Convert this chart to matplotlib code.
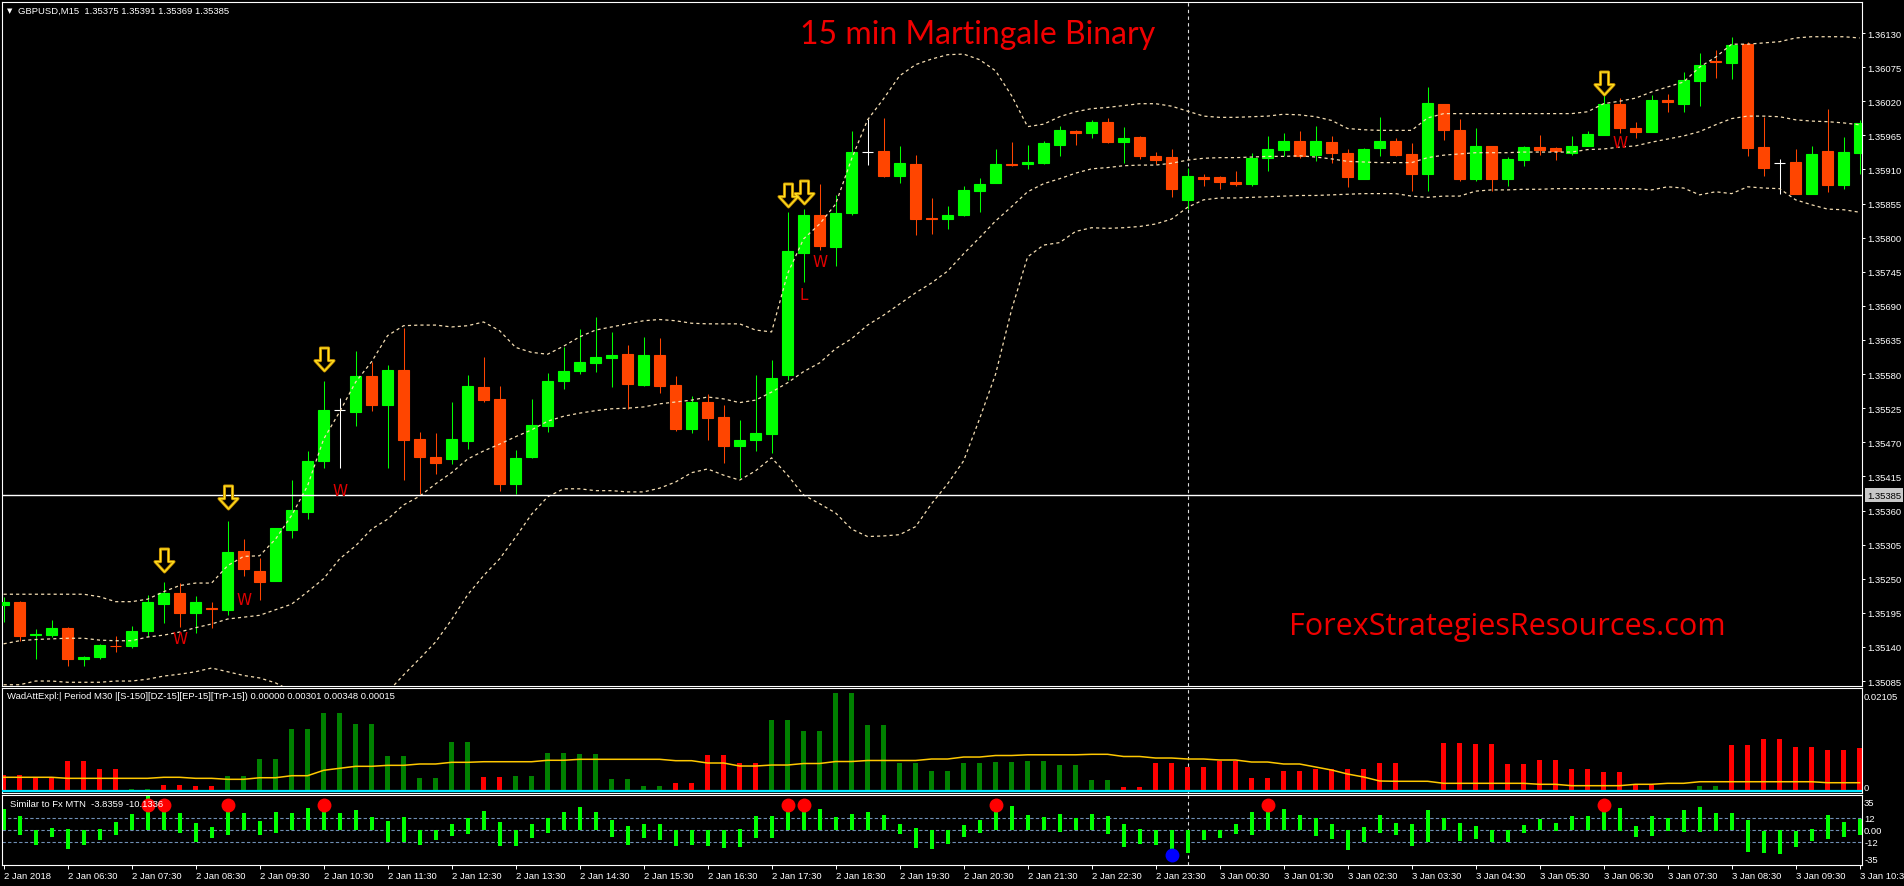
import numpy as np
import matplotlib
matplotlib.use('Agg')
import matplotlib.pyplot as plt
import matplotlib.transforms as mtransforms
from matplotlib.path import Path

plt.rcParams['font.family'] = ['Liberation Sans', 'DejaVu Sans']

W_PX, H_PX = 1904, 887

# ─── DATA: GBPUSD M15, 2 Jan 05:30 .. 3 Jan 10:30 (117 bars) ────────────────
opens = [
    1.35208, 1.35213, 1.35160, 1.35160, 1.35171, 1.35120, 1.35123, 1.35142, 1.35142, 1.35165,
    1.35210, 1.35227, 1.35195, 1.35202, 1.35200, 1.35295, 1.35263, 1.35247, 1.35328, 1.35357,
    1.35440, 1.35522, 1.35519, 1.35577, 1.35530, 1.35587, 1.35475, 1.35446, 1.35443, 1.35472,
    1.35559, 1.35540, 1.35403, 1.35446, 1.35496, 1.35569, 1.35585, 1.35598, 1.35606, 1.35612,
    1.35562, 1.35611, 1.35562, 1.35491, 1.35535, 1.35511, 1.35464, 1.35473, 1.35484, 1.35579,
    1.35775, 1.35837, 1.35785, 1.35840, 1.35938, 1.35940, 1.35900, 1.35919, 1.35832, 1.35830,
    1.35837, 1.35875, 1.35888, 1.35918, 1.35918, 1.35921, 1.35950, 1.35972, 1.35968, 1.35987,
    1.35955, 1.35962, 1.35932, 1.35930, 1.35860, 1.35898, 1.35898, 1.35890, 1.35887, 1.35929,
    1.35942, 1.35956, 1.35934, 1.35954, 1.35937, 1.35895, 1.35944, 1.35956, 1.35935, 1.35902,
    1.36016, 1.35974, 1.35894, 1.35948, 1.35894, 1.35926, 1.35946, 1.35945, 1.35936, 1.35947,
    1.35965, 1.36016, 1.35977, 1.35971, 1.36022, 1.36016, 1.36053, 1.36085, 1.36082, 1.36112,
    1.35946, 1.35921, 1.35922, 1.35871, 1.35940, 1.35885, 1.35936]
highs = [
    1.35220, 1.35214, 1.35169, 1.35184, 1.35172, 1.35126, 1.35145, 1.35158, 1.35173, 1.35223,
    1.35245, 1.35243, 1.35222, 1.35213, 1.35343, 1.35314, 1.35284, 1.35332, 1.35409, 1.35456,
    1.35569, 1.35542, 1.35617, 1.35600, 1.35595, 1.35655, 1.35487, 1.35485, 1.35535, 1.35579,
    1.35608, 1.35561, 1.35458, 1.35540, 1.35582, 1.35624, 1.35653, 1.35672, 1.35648, 1.35627,
    1.35640, 1.35638, 1.35577, 1.35545, 1.35548, 1.35530, 1.35506, 1.35579, 1.35603, 1.35841,
    1.35846, 1.35887, 1.35869, 1.35972, 1.35992, 1.35993, 1.35948, 1.35933, 1.35864, 1.35851,
    1.35883, 1.35896, 1.35943, 1.35954, 1.35950, 1.35956, 1.35980, 1.35974, 1.35990, 1.35993,
    1.35979, 1.35964, 1.35938, 1.35943, 1.35912, 1.35903, 1.35900, 1.35908, 1.35937, 1.35964,
    1.35969, 1.35972, 1.35980, 1.35964, 1.35943, 1.35945, 1.35995, 1.35961, 1.35953, 1.36043,
    1.36016, 1.35992, 1.35977, 1.35948, 1.35930, 1.35948, 1.35966, 1.35946, 1.35964, 1.35972,
    1.36030, 1.36025, 1.35987, 1.36030, 1.36032, 1.36067, 1.36098, 1.36103, 1.36124, 1.36116,
    1.35995, 1.35927, 1.35943, 1.35948, 1.36008, 1.35962, 1.35990]
lows = [
    1.35181, 1.35150, 1.35120, 1.35156, 1.35110, 1.35110, 1.35120, 1.35132, 1.35139, 1.35157,
    1.35178, 1.35172, 1.35163, 1.35171, 1.35192, 1.35255, 1.35215, 1.35246, 1.35316, 1.35346,
    1.35429, 1.35429, 1.35496, 1.35521, 1.35429, 1.35409, 1.35386, 1.35419, 1.35435, 1.35459,
    1.35535, 1.35392, 1.35386, 1.35445, 1.35487, 1.35556, 1.35580, 1.35583, 1.35559, 1.35524,
    1.35561, 1.35550, 1.35488, 1.35485, 1.35474, 1.35437, 1.35412, 1.35456, 1.35452, 1.35571,
    1.35729, 1.35780, 1.35754, 1.35837, 1.35917, 1.35898, 1.35888, 1.35804, 1.35806, 1.35814,
    1.35835, 1.35841, 1.35888, 1.35916, 1.35910, 1.35918, 1.35931, 1.35950, 1.35960, 1.35953,
    1.35921, 1.35927, 1.35918, 1.35866, 1.35846, 1.35884, 1.35879, 1.35884, 1.35884, 1.35907,
    1.35931, 1.35929, 1.35924, 1.35921, 1.35881, 1.35894, 1.35931, 1.35932, 1.35876, 1.35876,
    1.35957, 1.35892, 1.35892, 1.35876, 1.35884, 1.35915, 1.35934, 1.35926, 1.35934, 1.35947,
    1.35965, 1.35969, 1.35960, 1.35971, 1.36002, 1.36002, 1.36013, 1.36058, 1.36056, 1.35931,
    1.35900, 1.35871, 1.35871, 1.35871, 1.35874, 1.35879, 1.35902]
closes = [
    1.35213, 1.35158, 1.35161, 1.35171, 1.35120, 1.35124, 1.35143, 1.35141, 1.35166, 1.35213,
    1.35227, 1.35194, 1.35213, 1.35201, 1.35293, 1.35266, 1.35245, 1.35332, 1.35361, 1.35440,
    1.35522, 1.35522, 1.35577, 1.35530, 1.35587, 1.35474, 1.35446, 1.35437, 1.35475, 1.35561,
    1.35538, 1.35403, 1.35445, 1.35498, 1.35569, 1.35585, 1.35600, 1.35608, 1.35611, 1.35564,
    1.35611, 1.35561, 1.35491, 1.35535, 1.35509, 1.35464, 1.35474, 1.35485, 1.35574, 1.35779,
    1.35837, 1.35787, 1.35840, 1.35938, 1.35938, 1.35900, 1.35921, 1.35830, 1.35830, 1.35837,
    1.35877, 1.35887, 1.35919, 1.35917, 1.35922, 1.35953, 1.35974, 1.35969, 1.35987, 1.35955,
    1.35961, 1.35931, 1.35926, 1.35879, 1.35900, 1.35895, 1.35889, 1.35887, 1.35929, 1.35943,
    1.35956, 1.35931, 1.35956, 1.35936, 1.35897, 1.35943, 1.35956, 1.35934, 1.35902, 1.36017,
    1.35973, 1.35894, 1.35948, 1.35894, 1.35927, 1.35946, 1.35942, 1.35939, 1.35948, 1.35967,
    1.36016, 1.35977, 1.35971, 1.36022, 1.36018, 1.36054, 1.36079, 1.36083, 1.36111, 1.35944,
    1.35913, 1.35921, 1.35871, 1.35935, 1.35885, 1.35938, 1.35985]

bb_upper = [
    1.35225, 1.35225, 1.35225, 1.35225, 1.35225, 1.35225, 1.35221, 1.35213, 1.35213, 1.35217,
    1.35229, 1.35239, 1.35243, 1.35243, 1.35271, 1.35286, 1.35287, 1.35314, 1.35352, 1.35400,
    1.35475, 1.35519, 1.35567, 1.35600, 1.35642, 1.35658, 1.35659, 1.35659, 1.35656, 1.35658,
    1.35664, 1.35650, 1.35623, 1.35615, 1.35612, 1.35625, 1.35640, 1.35651, 1.35656, 1.35661,
    1.35666, 1.35668, 1.35666, 1.35662, 1.35661, 1.35661, 1.35661, 1.35651, 1.35648, 1.35742,
    1.35798, 1.35822, 1.35854, 1.35927, 1.35990, 1.36024, 1.36061, 1.36079, 1.36088, 1.36095,
    1.36096, 1.36087, 1.36069, 1.36029, 1.35979, 1.35983, 1.35995, 1.36003, 1.36008, 1.36010,
    1.36013, 1.36016, 1.36016, 1.36012, 1.36004, 1.35996, 1.35994, 1.35994, 1.35995, 1.35996,
    1.35999, 1.35998, 1.35995, 1.35989, 1.35976, 1.35974, 1.35973, 1.35973, 1.35973, 1.35993,
    1.36000, 1.36000, 1.36000, 1.36000, 1.36000, 1.36000, 1.36000, 1.36000, 1.36000, 1.36003,
    1.36016, 1.36020, 1.36025, 1.36035, 1.36043, 1.36051, 1.36075, 1.36091, 1.36112, 1.36112,
    1.36114, 1.36116, 1.36122, 1.36124, 1.36124, 1.36124, 1.36122]
bb_mid = [
    1.35145, 1.35150, 1.35152, 1.35153, 1.35154, 1.35154, 1.35151, 1.35150, 1.35150, 1.35156,
    1.35159, 1.35164, 1.35171, 1.35177, 1.35185, 1.35188, 1.35191, 1.35200, 1.35209, 1.35229,
    1.35250, 1.35282, 1.35303, 1.35330, 1.35346, 1.35369, 1.35383, 1.35403, 1.35421, 1.35443,
    1.35456, 1.35467, 1.35479, 1.35490, 1.35504, 1.35512, 1.35517, 1.35521, 1.35524, 1.35525,
    1.35527, 1.35532, 1.35535, 1.35538, 1.35543, 1.35540, 1.35534, 1.35538, 1.35551, 1.35566,
    1.35584, 1.35598, 1.35621, 1.35637, 1.35659, 1.35675, 1.35693, 1.35711, 1.35727, 1.35746,
    1.35774, 1.35800, 1.35827, 1.35850, 1.35874, 1.35887, 1.35895, 1.35904, 1.35911, 1.35913,
    1.35916, 1.35917, 1.35917, 1.35920, 1.35925, 1.35928, 1.35929, 1.35929, 1.35930, 1.35931,
    1.35931, 1.35932, 1.35930, 1.35927, 1.35923, 1.35922, 1.35921, 1.35921, 1.35921, 1.35929,
    1.35933, 1.35935, 1.35937, 1.35937, 1.35937, 1.35938, 1.35938, 1.35938, 1.35938, 1.35942,
    1.35943, 1.35946, 1.35948, 1.35954, 1.35959, 1.35964, 1.35971, 1.35982, 1.35992, 1.35996,
    1.35996, 1.35995, 1.35990, 1.35988, 1.35987, 1.35985, 1.35982]
bb_lower = [
    1.35079, 1.35079, 1.35085, 1.35085, 1.35083, 1.35083, 1.35083, 1.35085, 1.35085, 1.35088,
    1.35093, 1.35096, 1.35100, 1.35106, 1.35100, 1.35094, 1.35090, 1.35082, 1.35069, 1.35056,
    1.35040, 1.35032, 1.35032, 1.35040, 1.35067, 1.35095, 1.35121, 1.35148, 1.35184, 1.35224,
    1.35255, 1.35282, 1.35317, 1.35354, 1.35382, 1.35395, 1.35395, 1.35392, 1.35392, 1.35390,
    1.35390, 1.35396, 1.35406, 1.35421, 1.35427, 1.35417, 1.35409, 1.35424, 1.35445, 1.35417,
    1.35385, 1.35371, 1.35356, 1.35330, 1.35318, 1.35319, 1.35321, 1.35334, 1.35371, 1.35403,
    1.35440, 1.35508, 1.35580, 1.35684, 1.35769, 1.35788, 1.35792, 1.35810, 1.35816, 1.35815,
    1.35816, 1.35818, 1.35822, 1.35830, 1.35849, 1.35861, 1.35864, 1.35864, 1.35865, 1.35866,
    1.35867, 1.35868, 1.35868, 1.35869, 1.35870, 1.35871, 1.35871, 1.35871, 1.35867, 1.35865,
    1.35867, 1.35867, 1.35875, 1.35877, 1.35877, 1.35878, 1.35878, 1.35879, 1.35879, 1.35879,
    1.35879, 1.35879, 1.35879, 1.35877, 1.35882, 1.35880, 1.35869, 1.35874, 1.35871, 1.35882,
    1.35880, 1.35879, 1.35861, 1.35853, 1.35846, 1.35845, 1.35841]

# signal markers on the price chart
arrow_bars = [10, 14, 20, 49, 50, 100]
arrow_prices = [1.35280, 1.35382, 1.35604, 1.35869, 1.35873, 1.36049]
w_bars = [11, 15, 21, 51, 101]
w_prices = [1.35154, 1.35217, 1.35392, 1.35762, 1.35953]
l_bars = [50]
l_prices = [1.35709]
hline_price = 1.35385
separator_bar = 74

price_ticks = [1.36130, 1.36075, 1.36020, 1.35965, 1.35910, 1.35855, 1.35800, 1.35745,
               1.35690, 1.35635, 1.35580, 1.35525, 1.35470, 1.35415, 1.35360, 1.35305,
               1.35250, 1.35195, 1.35140, 1.35085]

# Waddah Attar Explosion (signed trend: + green, - red) and explosion line
wae_trend = [
    -0.00344, -0.00344, -0.00289, -0.00289, -0.00627, -0.00627, -0.00466, -0.00466, 0.00061, 0.00061,
    -0.00142, -0.00142, -0.00121, -0.00121, 0.00324, 0.00324, 0.00668, 0.00668, 0.01275, 0.01275,
    0.01599, 0.01599, 0.01376, 0.01376, 0.00729, 0.00729, 0.00283, 0.00283, 0.01012, 0.01012,
    -0.00304, -0.00304, 0.00324, 0.00324, 0.00789, 0.00789, 0.00769, 0.00769, 0.00263, 0.00263,
    0.00121, 0.00121, -0.00182, -0.00182, -0.00749, -0.00749, -0.00587, -0.00587, 0.01457, 0.01457,
    0.01235, 0.01235, 0.02004, 0.02004, 0.01356, 0.01356, 0.00587, 0.00587, 0.00425, 0.00425,
    0.00587, 0.00587, 0.00607, 0.00607, 0.00627, 0.00627, 0.00546, 0.00546, 0.00243, 0.00243,
    -0.00101, -0.00101, -0.00587, -0.00587, -0.00506, -0.00506, -0.00627, -0.00627, -0.00283, -0.00283,
    -0.00425, -0.00425, -0.00466, -0.00466, -0.00466, -0.00466, -0.00587, -0.00587, -0.00040, -0.00040,
    -0.00992, -0.00992, -0.00972, -0.00972, -0.00567, -0.00567, -0.00648, -0.00648, -0.00466, -0.00466,
    -0.00405, -0.00405, -0.00142, -0.00142, 0.0, 0.0, 0.00121, 0.00121, -0.00951, -0.00951,
    -0.01073, -0.01073, -0.00911, -0.00911, -0.00850, -0.00850, -0.00891]
wae_explosion = [
    0.00298, 0.00298, 0.00298, 0.00298, 0.00277, 0.00277, 0.00277, 0.00277, 0.00277, 0.00277,
    0.00298, 0.00298, 0.00277, 0.00277, 0.00257, 0.00257, 0.00289, 0.00289, 0.00330, 0.00330,
    0.00439, 0.00480, 0.00520, 0.00520, 0.00540, 0.00540, 0.00567, 0.00567, 0.00601, 0.00601,
    0.00613, 0.00613, 0.00613, 0.00613, 0.00642, 0.00642, 0.00662, 0.00662, 0.00662, 0.00662,
    0.00662, 0.00662, 0.00634, 0.00634, 0.00587, 0.00587, 0.00526, 0.00526, 0.00546, 0.00546,
    0.00577, 0.00577, 0.00617, 0.00617, 0.00638, 0.00638, 0.00638, 0.00638, 0.00668, 0.00668,
    0.00708, 0.00708, 0.00739, 0.00739, 0.00753, 0.00753, 0.00753, 0.00753, 0.00763, 0.00763,
    0.00719, 0.00719, 0.00688, 0.00688, 0.00668, 0.00668, 0.00648, 0.00648, 0.00607, 0.00607,
    0.00567, 0.00567, 0.00506, 0.00445, 0.00364, 0.00304, 0.00223, 0.00217, 0.00217, 0.00217,
    0.00176, 0.00176, 0.00176, 0.00176, 0.00176, 0.00176, 0.00156, 0.00156, 0.00128, 0.00128,
    0.00128, 0.00128, 0.00156, 0.00156, 0.00176, 0.00176, 0.00208, 0.00208, 0.00208, 0.00208,
    0.00208, 0.00208, 0.00208, 0.00208, 0.00188, 0.00188, 0.00188]
wae_dead_zone = 0.00015

# "Similar to Fx MTN" histogram (bar top / bottom) and signal dots
mtn_top = [
    21, 14.3, 0, 2, 1, -0.3, 1, 7.7, 16, 33.7,
    22, 17, 7, 3, 18.3, 17, 9, 18, 17, 22,
    19.7, 17, 20, 13, 9, 13, -0.3, 0, 6, 12,
    19, 8, 0, 6, 12, 18, 23, 18, 10, 4,
    6, 6, 0, 0, 0, 0, 1, 14, 14, 19,
    19, 21, 13, 16, 18, 15, 6, 2, 0, 0,
    5, 10, 19, 24, 15, 13, 16, 12, 16, 14,
    6, 1, 0, 0, 0, 0, 0, 6, 18, 19,
    21, 15, 12, 6, 0, 3, 15, 7, 6, 20,
    12, 7, 4, 0, 0, 5, 11, 7, 14, 14,
    20, 22, 4, 14, 12, 20, 23, 17, 17, 10,
    -0.7, 0, -0.7, 1, 15, 8, 11]
mtn_bot = [
    0, -4.7, -14.7, -6.7, -18.7, -14.7, -9.7, -4.7, 0, 0,
    0, -3, -12.3, -8, -4.7, 0, -4.7, -2.7, 0, 0,
    0, 0, 0, 0, -12.3, -12.3, -14.7, -9.7, -5.7, -3.7,
    0, -15.7, -15.7, -8, -2.7, 0, 0, 0, -6.7, -14.7,
    -8, -9.7, -15.7, -14.7, -15.7, -17.7, -16.7, -8, -8, 0,
    0, 0, 0, 0, 0, 0, -4, -17.7, -18.7, -13.7,
    -7, -2.7, 0, 0, 0, 0, -1.7, 0, 0, -4,
    -16.7, -14.3, -14.7, -19.7, -22.7, -10, -8, -4, -4.7, 0,
    0, 0, -5.7, -8.7, -19.7, -12.3, -2.7, -4.7, -15.7, -12.3,
    0, -10.7, -8.7, -11.7, -11.7, -2.7, 0, -0.7, 0, 0,
    0, -0.7, -6.7, -5.7, -0.7, -1.7, -1.7, -0.7, 0, -21.7,
    -22.7, -23.7, -16.7, -10.7, -8.7, -6.7, -4.7]
sell_dot_bars = [9, 10, 14, 20, 49, 50, 62, 79, 100]
buy_dot_bars = [73]
dot_level = 25
mtn_levels = [12, 0, -12]
mtn_tick_pos = [28, 12, 0, -12, -29]
mtn_tick_labels = ['35', '12', '0.00', '-12', '-35']

time_label_bars = list(range(0, 117, 4))
time_labels = ['2 Jan 2018', '2 Jan 06:30', '2 Jan 07:30', '2 Jan 08:30', '2 Jan 09:30',
               '2 Jan 10:30', '2 Jan 11:30', '2 Jan 12:30', '2 Jan 13:30', '2 Jan 14:30',
               '2 Jan 15:30', '2 Jan 16:30', '2 Jan 17:30', '2 Jan 18:30', '2 Jan 19:30',
               '2 Jan 20:30', '2 Jan 21:30', '2 Jan 22:30', '2 Jan 23:30', '3 Jan 00:30',
               '3 Jan 01:30', '3 Jan 02:30', '3 Jan 03:30', '3 Jan 04:30', '3 Jan 05:30',
               '3 Jan 06:30', '3 Jan 07:30', '3 Jan 08:30', '3 Jan 09:30', '3 Jan 10:30']

# ─── STYLE ───────────────────────────────────────────────────────────────────
BULL, BEAR, DOJI = '#00ff00', '#ff4500', '#ffffff'
BAND = '#f5deb3'
FG = 'white'
XLIM = (-0.1, 116.15)

fig = plt.figure(figsize=(W_PX / 100, H_PX / 100), dpi=100, facecolor='black')


def px_axes(left, top, right, bottom):
    return fig.add_axes([left / W_PX, 1 - bottom / H_PX,
                         (right - left) / W_PX, (bottom - top) / H_PX])


def style(a):
    a.set_facecolor('black')
    for sp in a.spines.values():
        sp.set_color(FG)
        sp.set_linewidth(0.8)
    a.set_xlim(*XLIM)
    a.yaxis.tick_right()
    a.tick_params(axis='both', colors=FG, labelsize=6.8, length=2.5, width=0.7, pad=1.5)
    a.set_xticks([])


ax = px_axes(2, 3, 1862, 687)
ax_wae = px_axes(2, 689, 1862, 794)
ax_mtn = px_axes(2, 796, 1862, 866)
for a in (ax, ax_wae, ax_mtn):
    style(a)
    a.axvline(separator_bar, color='#dddddd', lw=0.8, ls=(0, (3, 3)), zorder=1)

x = np.arange(len(closes))

# ── main: candles ──────────────────────────────────────────────────────────
o, h, l, c = map(np.array, (opens, highs, lows, closes))
col = np.where(c > o + 1e-7, BULL, np.where(c < o - 1e-7, BEAR, DOJI))
ax.vlines(x, l, h, colors=col, linewidth=0.75, zorder=2)
ax.bar(x, np.abs(c - o), bottom=np.minimum(o, c), width=0.69, color=col,
       edgecolor=col, linewidth=0.8, zorder=3)

for band in (bb_upper, bb_mid, bb_lower):
    ax.plot(x, band, color=BAND, lw=0.9, ls=(0, (2.5, 2.5)), zorder=4)

ax.axhline(hline_price, color='white', lw=1.0, zorder=5)

arrow = Path([(-0.35, 1), (0.35, 1), (0.35, -0.1), (0.83, -0.1), (0, -1),
              (-0.83, -0.1), (-0.35, -0.1), (-0.35, 1)],
             [Path.MOVETO] + [Path.LINETO] * 6 + [Path.CLOSEPOLY])
ax.plot(arrow_bars, arrow_prices, ls='none', marker=arrow, ms=16.5,
        mfc='none', mec='#c89000', mew=2.2, zorder=6)
ax.plot(arrow_bars, arrow_prices, ls='none', marker=arrow, ms=16.5,
        mfc='none', mec='#ffe020', mew=0.9, zorder=7)
for b, p in zip(w_bars, w_prices):
    ax.text(b, p, 'W', color='#e00000', fontsize=11, ha='center', va='center',
            family='DejaVu Sans', zorder=6)
for b, p in zip(l_bars, l_prices):
    ax.text(b, p, 'L', color='#e00000', fontsize=11, ha='center', va='center',
            family='DejaVu Sans', zorder=6)

ax.set_ylim(1.35077, 1.36180)
ax.set_yticks(price_ticks)
ax.set_yticklabels([f'{p:.5f}' for p in price_ticks])
trans = mtransforms.offset_copy(mtransforms.blended_transform_factory(ax.transAxes, ax.transData),
                                fig=fig, x=5, y=0, units='dots')
ax.text(1.0, hline_price, f'{hline_price:.5f}', transform=trans, ha='left', va='center',
        fontsize=6.8, color='black', zorder=10,
        bbox=dict(facecolor='#c8c8c8', edgecolor='none', pad=1.6))

# ── WAE panel ─────────────────────────────────────────────────────────────
wt = np.array(wae_trend)
ax_wae.bar(x, np.abs(wt), width=0.28, color=np.where(wt >= 0, '#008000', '#ff0000'), zorder=2)
ax_wae.plot(x, wae_explosion, color='#ffc800', lw=1.1, zorder=3)
ax_wae.axhline(wae_dead_zone, color='#00e5ff', lw=1.6, zorder=4)
ax_wae.set_ylim(-0.0002, 0.02105)
ax_wae.set_yticks([0.01963, 0.0012])
ax_wae.set_yticklabels(['0.02105', '0'])
ax_wae.tick_params(axis='y', length=0)

# ── MTN panel ─────────────────────────────────────────────────────────────
mt, mb = np.array(mtn_top), np.array(mtn_bot)
for lv in mtn_levels:
    ax_mtn.axhline(lv, color='#6f8fb5', lw=0.8, ls=(0, (3, 2)), zorder=1)
ax_mtn.bar(x, mt - mb, bottom=mb, width=0.25, color='#00ff00', zorder=2)
ax_mtn.plot(sell_dot_bars, [dot_level] * len(sell_dot_bars), 'o', color='#ff0000', ms=9, zorder=4)
ax_mtn.plot(buy_dot_bars, [-dot_level] * len(buy_dot_bars), 'o', color='#0000ff', ms=9, zorder=4)
ax_mtn.set_ylim(-35, 35)
ax_mtn.set_yticks(mtn_tick_pos)
ax_mtn.set_yticklabels(mtn_tick_labels)
ax_mtn.tick_params(axis='y', length=0)
ax_mtn.set_xticks(time_label_bars)
ax_mtn.set_xticklabels(time_labels, ha='left')
ax_mtn.tick_params(axis='x', length=3, pad=1.5)
ax_mtn.set_xlim(*XLIM)

# ── texts ─────────────────────────────────────────────────────────────────
def ftext(px, py, s, **kw):
    fig.text(px / W_PX, 1 - py / H_PX, s, **kw)


ftext(7, 11, '\u25bc', color=FG, fontsize=5, va='center', family='DejaVu Sans')
ftext(18, 11, 'GBPUSD,M15  1.35375 1.35391 1.35369 1.35385', color=FG, fontsize=6.8, va='center')
ftext(7, 697, 'WadAttExpl:| Period M30 |[S-150][DZ-15][EP-15][TrP-15]) 0.00000 0.00301 0.00348 0.00015',
      color=FG, fontsize=6.8, va='center')
ftext(10, 805, 'Similar to Fx MTN  -3.8359 -10.1336', color=FG, fontsize=6.8, va='center')
ftext(978, 43.5, '15 min Martingale Binary', color='#f00000', fontsize=23, ha='center',
      va='baseline', family='Lato')
ftext(1507, 635, 'ForexStrategiesResources.com', color='#f00000', fontsize=22, ha='center',
      va='baseline', family='Open Sans')

fig.savefig('out.png', dpi=100, facecolor='black')
